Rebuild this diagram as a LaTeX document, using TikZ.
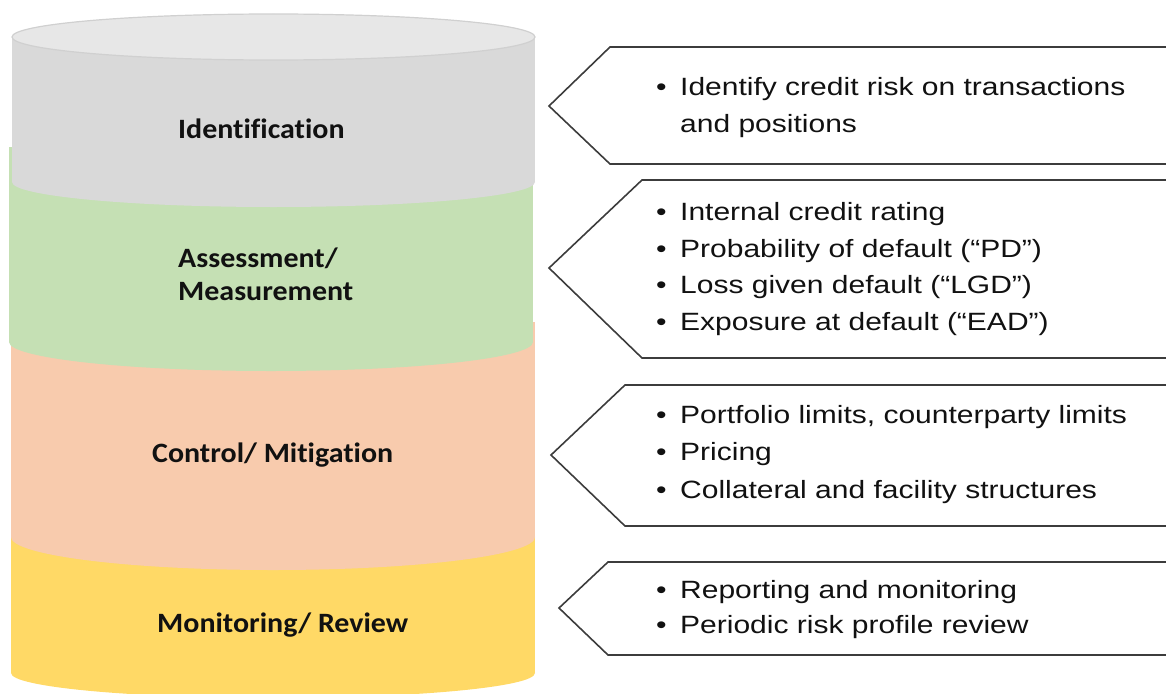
\documentclass[tikz,border=0pt]{standalone}
\usepackage{fontspec}
\newfontfamily\itemfont[FakeStretch=1.2]{Liberation Sans}
\newfontfamily\labfont[FakeStretch=1.07,Ligatures=NoCommon]{Carlito}
\definecolor{cgray}{HTML}{D9D9D9}
\definecolor{cgraytop}{HTML}{E7E7E7}
\definecolor{cgrayrim}{HTML}{D0D0D0}
\definecolor{cgreen}{HTML}{C5E0B4}
\definecolor{corange}{HTML}{F8CBAD}
\definecolor{cyellow}{HTML}{FFD966}
\definecolor{linecol}{HTML}{3C3C3C}
\definecolor{txt}{HTML}{111111}
\begin{document}
\begin{tikzpicture}[x=1pt,y=-1pt,
  boxline/.style={draw=linecol, line width=1.6pt, line join=miter},
  itemtext/.style={anchor=base west, inner sep=0pt, text=txt, font=\fontsize{25}{30}\itemfont},
  labtext/.style={anchor=base west, inner sep=0pt, text=txt, font=\fontsize{28}{33}\labfont\bfseries}]
\useasboundingbox (0,0) rectangle (1166,693);
\begin{scope}
\clip (0,0) rectangle (1166,693);
% cylinders, bottom first
\fill[cyellow] (11,530) rectangle (535,673);
\fill[cyellow] (273,673) ellipse [x radius=262, y radius=25];
\fill[corange] (11,322) rectangle (535,537);
\fill[corange] (273,537) ellipse [x radius=262, y radius=33];
\fill[cgreen] (9,147) rectangle (533,342);
\fill[cgreen] (271,342) ellipse [x radius=262, y radius=29];
\fill[cgray] (12,37) rectangle (535,182);
\fill[cgray] (273.5,182) ellipse [x radius=261.5, y radius=25];
\filldraw[fill=cgraytop, draw=cgrayrim, line width=1.2pt] (273.5,37) ellipse [x radius=261.5, y radius=23];
% arrow boxes
\draw[boxline] (1172,47) -- (610,47) -- (549,106) -- (610,164) -- (1172,164);
\draw[boxline] (1172,180) -- (642,180) -- (549,268) -- (642,358) -- (1172,358);
\draw[boxline] (1172,385) -- (625,385) -- (551,455) -- (625,526) -- (1172,526);
\draw[boxline] (1172,562) -- (608,562) -- (559,608) -- (608,655) -- (1172,655);
\end{scope}
% cylinder labels
\node[labtext] (lid) at (178,138) {Identification};
\node[labtext] (las1) at (178,267) {Assessment/};
\node[labtext] (las2) at (178,300) {Measurement};
\node[labtext] (lco) at (152,462) {Control/ Mitigation};
\node[labtext] (lmo) at (157,632) {Monitoring/ Review};
% box texts
\newcommand{\bul}{\makebox[24pt][l]{•}}
\newcommand{\ind}{\hspace*{24pt}}
\node[itemtext] (a1) at (656,95) {\bul Identify credit risk on transactions};
\node[itemtext] (a2) at (656,132) {\ind and positions};
\node[itemtext] (b1) at (656,220) {\bul Internal credit rating};
\node[itemtext] (b2) at (656,257) {\bul Probability of default (“PD”)};
\node[itemtext] (b3) at (656,293) {\bul Loss given default (“LGD”)};
\node[itemtext] (b4) at (656,330) {\bul Exposure at default (“EAD”)};
\node[itemtext] (c1) at (656,423) {\bul Portfolio limits, counterparty limits};
\node[itemtext] (c2) at (656,460) {\bul Pricing};
\node[itemtext] (c3) at (656,498) {\bul Collateral and facility structures};
\node[itemtext] (d1) at (656,598) {\bul Reporting and monitoring};
\node[itemtext] (d2) at (656,633) {\bul Periodic risk profile review};
\end{tikzpicture}
\end{document}
